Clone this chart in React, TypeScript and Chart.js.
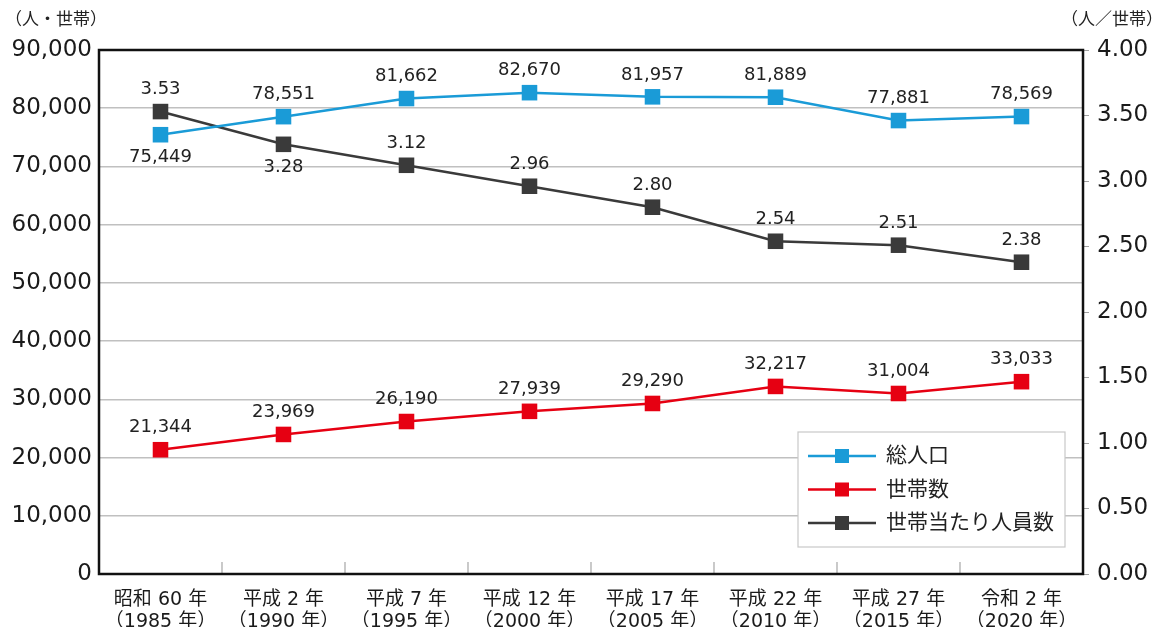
import React, { useEffect, useRef } from "react";
import { Chart, registerables } from "chart.js";

Chart.register(...registerables);

const categories: string[][] = [
  ["昭和 60 年", "（1985 年）"],
  ["平成 2 年", "（1990 年）"],
  ["平成 7 年", "（1995 年）"],
  ["平成 12 年", "（2000 年）"],
  ["平成 17 年", "（2005 年）"],
  ["平成 22 年", "（2010 年）"],
  ["平成 27 年", "（2015 年）"],
  ["令和 2 年", "（2020 年）"],
];

const population = [75449, 78551, 81662, 82670, 81957, 81889, 77881, 78569];
const households = [21344, 23969, 26190, 27939, 29290, 32217, 31004, 33033];
const perHousehold = [3.53, 3.28, 3.12, 2.96, 2.8, 2.54, 2.51, 2.38];

const populationLabelPos = ["below", "above", "above", "above", "above", "above", "above", "above"];
const householdsLabelPos = ["above", "above", "above", "above", "above", "above", "above", "above"];
const perHouseholdLabelPos = ["above", "below", "above", "above", "above", "above", "above", "above"];

const seriesNames = ["総人口", "世帯数", "世帯当たり人員数"];
const leftTitle = "（人・世帯）";
const rightTitle = "（人／世帯）";

const BLUE = "#1a9bd7";
const RED = "#e60012";
const DARK = "#3a3a3a";
const FONT = "'DejaVu Sans', 'Noto Sans CJK JP', sans-serif";

const fmtInt = (v: number) => v.toLocaleString("en-US");

export default function App() {
  const ref = useRef<HTMLCanvasElement | null>(null);

  useEffect(() => {
    document.body.style.margin = "0";
    const canvas = ref.current;
    if (!canvas) return;

    const posArrays = [populationLabelPos, householdsLabelPos, perHouseholdLabelPos];
    const colors = [BLUE, RED, DARK];

    const overlay = {
      id: "overlay",
      beforeDatasetsDraw(chart: any) {
        const ctx = chart.ctx;
        const a = chart.chartArea;
        const x = chart.scales.x;
        ctx.save();
        ctx.strokeStyle = "#a6a6a6";
        ctx.lineWidth = 1.2;
        for (let i = 1; i < categories.length; i++) {
          const px = (x.getPixelForValue(i - 1) + x.getPixelForValue(i)) / 2;
          ctx.beginPath();
          ctx.moveTo(px, a.bottom);
          ctx.lineTo(px, a.bottom - 12);
          ctx.stroke();
        }
        ctx.strokeStyle = "#111";
        ctx.lineWidth = 2.5;
        ctx.strokeRect(a.left, a.top, a.right - a.left, a.bottom - a.top);
        ctx.restore();
      },
      afterDraw(chart: any) {
        const ctx = chart.ctx;
        const a = chart.chartArea;
        ctx.save();
        ctx.font = `18px ${FONT}`;
        ctx.fillStyle = "#222";
        ctx.textAlign = "center";
        ctx.textBaseline = "middle";
        chart.data.datasets.forEach((ds: any, di: number) => {
          const meta = chart.getDatasetMeta(di);
          meta.data.forEach((pt: any, i: number) => {
            const v = ds.data[i];
            const txt = di === 2 ? v.toFixed(2) : fmtInt(v);
            const dy = posArrays[di][i] === "above" ? -22 : 23;
            ctx.fillText(txt, pt.x, pt.y + dy);
          });
        });
        ctx.font = `17px ${FONT}`;
        ctx.fillStyle = "#222";
        ctx.textAlign = "left";
        ctx.fillText(leftTitle, 5, 21);
        ctx.textAlign = "right";
        ctx.fillText(rightTitle, 1163, 21);
        const bx = a.right - 285;
        const by = a.bottom - 142;
        const bw = 267;
        const bh = 115;
        ctx.fillStyle = "#fff";
        ctx.fillRect(bx, by, bw, bh);
        ctx.strokeStyle = "#c8c8c8";
        ctx.lineWidth = 1.2;
        ctx.strokeRect(bx, by, bw, bh);
        ctx.font = `21px ${FONT}`;
        ctx.textAlign = "left";
        seriesNames.forEach((name, i) => {
          const y = by + 24 + i * 33.5;
          ctx.strokeStyle = colors[i];
          ctx.lineWidth = 2.5;
          ctx.beginPath();
          ctx.moveTo(bx + 10, y);
          ctx.lineTo(bx + 78, y);
          ctx.stroke();
          ctx.fillStyle = colors[i];
          ctx.fillRect(bx + 37, y - 7, 14, 14);
          ctx.fillStyle = "#222";
          ctx.fillText(name, bx + 88, y + 1);
        });
        ctx.restore();
      },
    };

    const mk = (label: string, data: number[], axis: string, color: string) => ({
      label,
      data,
      yAxisID: axis,
      borderColor: color,
      backgroundColor: color,
      borderWidth: 2.5,
      pointStyle: "rect",
      pointRadius: 11,
      pointBorderWidth: 0,
    });

    const chart = new Chart(canvas, {
      type: "line",
      data: {
        labels: categories,
        datasets: [
          mk(seriesNames[0], population, "y", BLUE),
          mk(seriesNames[1], households, "y", RED),
          mk(seriesNames[2], perHousehold, "y2", DARK),
        ],
      },
      options: {
        responsive: false,
        animation: false,
        layout: { padding: { top: 50, left: 0, right: 0, bottom: 0 } },
        plugins: {
          legend: { display: false },
          tooltip: { enabled: false },
        },
        scales: {
          x: {
            offset: true,
            grid: { display: false },
            border: { display: false },
            ticks: {
              color: "#1a1a1a",
              font: { size: 19, family: FONT, lineHeight: 1.15 },
              padding: 7,
              maxRotation: 0,
              autoSkip: false,
            },
            afterFit: (s: any) => {
              s.height = 53;
            },
          },
          y: {
            position: "left",
            min: 0,
            max: 90000,
            grid: { color: "#c0c0c0", lineWidth: 1.5, drawTicks: false },
            border: { display: false },
            ticks: {
              stepSize: 10000,
              color: "#1a1a1a",
              font: { size: 23, family: FONT },
              padding: 7,
              callback: (v: any) => fmtInt(Number(v)),
            },
            afterFit: (s: any) => {
              s.width = 99;
            },
          },
          y2: {
            position: "right",
            min: 0,
            max: 4,
            grid: { drawOnChartArea: false, color: "#a0a0a0", tickLength: 6 },
            border: { display: false },
            ticks: {
              stepSize: 0.5,
              color: "#1a1a1a",
              font: { size: 23, family: FONT },
              padding: 8,
              callback: (v: any) => Number(v).toFixed(2),
            },
            afterFit: (s: any) => {
              s.width = 82;
            },
          },
        },
      },
      plugins: [overlay],
    } as any);

    return () => chart.destroy();
  }, []);

  return (
    <div style={{ width: 1165, height: 627, background: "#fff" }}>
      <canvas ref={ref} width={1165} height={627} />
    </div>
  );
}
